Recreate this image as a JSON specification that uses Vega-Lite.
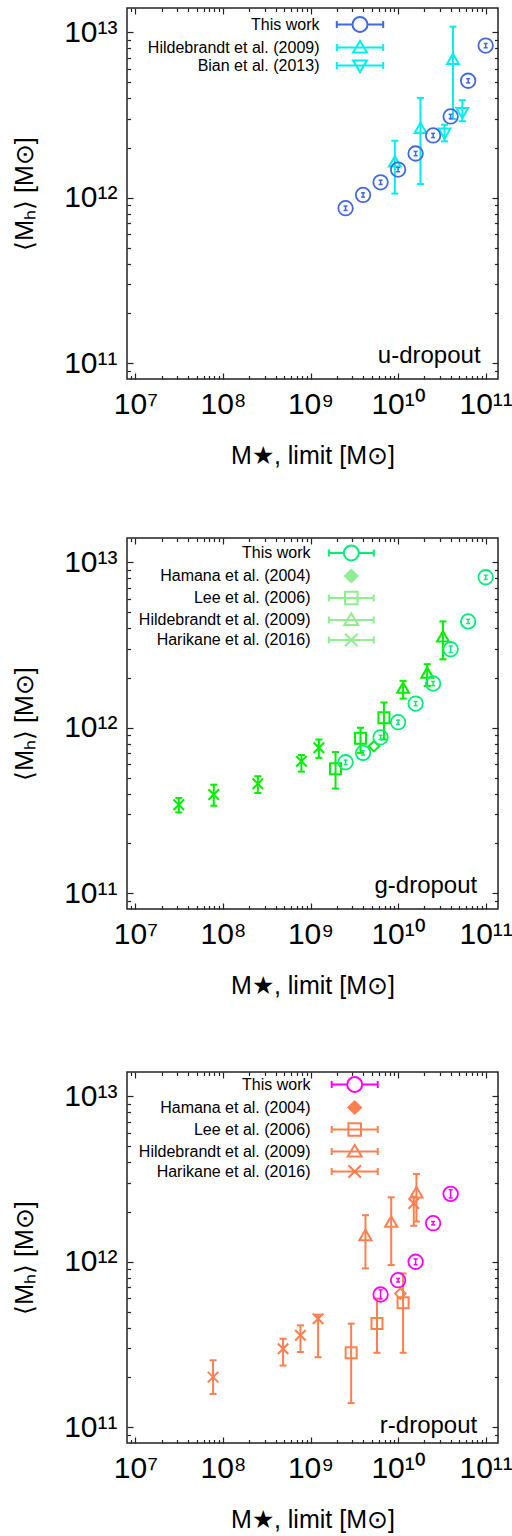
{
"$schema": "https://vega.github.io/schema/vega-lite/v6.json",
"padding": {"left": 11, "top": 6, "right": 0, "bottom": 0},
"background": "white",
"config": {
  "view": {"stroke": "#222", "strokeWidth": 1.5},
  "font": "Liberation Sans",
  "axis": {"labelFont": "Liberation Sans", "labelFontSize": 30, "labelColor": "black", "labelOverlap": false, "labelFlush": false, "domain": false, "grid": false, "tickColor": "#222", "tickWidth": 1.2, "titleFont": "Liberation Sans", "titleFontSize": 25, "titleFontWeight": "normal", "titleColor": "black"}
},
"datasets": {
  "u": [
    {"series": "This work", "x": 2.512e9, "y": 8.65e11, "lo": 8.39e11, "hi": 8.91e11},
    {"series": "This work", "x": 3.981e9, "y": 1.04e12, "lo": 1.009e12, "hi": 1.071e12},
    {"series": "This work", "x": 6.31e9, "y": 1.24e12, "lo": 1.203e12, "hi": 1.277e12},
    {"series": "This work", "x": 1e10, "y": 1.48e12, "lo": 1.436e12, "hi": 1.524e12},
    {"series": "This work", "x": 1.585e10, "y": 1.85e12, "lo": 1.795e12, "hi": 1.905e12},
    {"series": "This work", "x": 2.512e10, "y": 2.38e12, "lo": 2.31e12, "hi": 2.45e12},
    {"series": "This work", "x": 3.981e10, "y": 3.10e12, "lo": 3.01e12, "hi": 3.19e12},
    {"series": "This work", "x": 6.31e10, "y": 5.09e12, "lo": 4.94e12, "hi": 5.24e12},
    {"series": "This work", "x": 1e11, "y": 8.30e12, "lo": 8.05e12, "hi": 8.55e12},
    {"series": "Hildebrandt et al. (2009)", "x": 9.18e9, "y": 1.66e12, "lo": 1.06e12, "hi": 2.21e12},
    {"series": "Hildebrandt et al. (2009)", "x": 1.80e10, "y": 2.64e12, "lo": 1.21e12, "hi": 4.01e12},
    {"series": "Hildebrandt et al. (2009)", "x": 4.23e10, "y": 6.89e12, "lo": 2.99e12, "hi": 1.08e13},
    {"series": "Bian et al. (2013)", "x": 3.39e10, "y": 2.44e12, "lo": 2.19e12, "hi": 2.76e12},
    {"series": "Bian et al. (2013)", "x": 5.41e10, "y": 3.25e12, "lo": 2.90e12, "hi": 3.88e12}
  ],
  "g": [
    {"series": "This work", "x": 2.512e9, "y": 6.19e11, "lo": 6.0e11, "hi": 6.38e11},
    {"series": "This work", "x": 3.981e9, "y": 7.05e11, "lo": 6.84e11, "hi": 7.26e11},
    {"series": "This work", "x": 6.31e9, "y": 8.75e11, "lo": 8.49e11, "hi": 9.01e11},
    {"series": "This work", "x": 1e10, "y": 1.08e12, "lo": 1.048e12, "hi": 1.112e12},
    {"series": "This work", "x": 1.585e10, "y": 1.40e12, "lo": 1.358e12, "hi": 1.442e12},
    {"series": "This work", "x": 2.512e10, "y": 1.85e12, "lo": 1.795e12, "hi": 1.905e12},
    {"series": "This work", "x": 3.981e10, "y": 2.98e12, "lo": 2.85e12, "hi": 3.12e12},
    {"series": "This work", "x": 6.31e10, "y": 4.39e12, "lo": 4.26e12, "hi": 4.52e12},
    {"series": "This work", "x": 1e11, "y": 8.11e12, "lo": 7.87e12, "hi": 8.35e12},
    {"series": "Hamana et al. (2004)", "x": 5.3e9, "y": 7.74e11},
    {"series": "Lee et al. (2006)", "x": 1.93e9, "y": 5.66e11, "lo": 4.29e11, "hi": 7.13e11},
    {"series": "Lee et al. (2006)", "x": 3.72e9, "y": 8.63e11, "lo": 7.05e11, "hi": 1.0e12},
    {"series": "Lee et al. (2006)", "x": 6.89e9, "y": 1.15e12, "lo": 8.49e11, "hi": 1.42e12},
    {"series": "Hildebrandt et al. (2009)", "x": 1.14e10, "y": 1.75e12, "lo": 1.50e12, "hi": 1.92e12},
    {"series": "Hildebrandt et al. (2009)", "x": 2.15e10, "y": 2.15e12, "lo": 1.79e12, "hi": 2.42e12},
    {"series": "Hildebrandt et al. (2009)", "x": 3.25e10, "y": 3.56e12, "lo": 2.59e12, "hi": 4.39e12},
    {"series": "Harikane et al. (2016)", "x": 3.13e7, "y": 3.43e11, "lo": 3.08e11, "hi": 3.77e11},
    {"series": "Harikane et al. (2016)", "x": 7.85e7, "y": 3.95e11, "lo": 3.38e11, "hi": 4.53e11},
    {"series": "Harikane et al. (2016)", "x": 2.50e8, "y": 4.59e11, "lo": 4.04e11, "hi": 5.09e11},
    {"series": "Harikane et al. (2016)", "x": 7.87e8, "y": 6.28e11, "lo": 5.43e11, "hi": 6.84e11},
    {"series": "Harikane et al. (2016)", "x": 1.245e9, "y": 7.57e11, "lo": 6.58e11, "hi": 8.49e11}
  ],
  "r": [
    {"series": "This work", "x": 6.31e9, "y": 6.34e11, "lo": 5.97e11, "hi": 6.76e11},
    {"series": "This work", "x": 1e10, "y": 7.74e11, "lo": 7.55e11, "hi": 7.93e11},
    {"series": "This work", "x": 1.585e10, "y": 1.0e12, "lo": 9.6e11, "hi": 1.04e12},
    {"series": "This work", "x": 2.512e10, "y": 1.71e12, "lo": 1.67e12, "hi": 1.75e12},
    {"series": "This work", "x": 3.981e10, "y": 2.57e12, "lo": 2.43e12, "hi": 2.72e12},
    {"series": "Hamana et al. (2004)", "x": 1.06e10, "y": 6.42e11},
    {"series": "Lee et al. (2006)", "x": 2.91e9, "y": 2.82e11, "lo": 1.40e11, "hi": 4.23e11},
    {"series": "Lee et al. (2006)", "x": 5.74e9, "y": 4.23e11, "lo": 2.82e11, "hi": 6.0e11},
    {"series": "Lee et al. (2006)", "x": 1.14e10, "y": 5.65e11, "lo": 2.82e11, "hi": 8.5e11},
    {"series": "Hildebrandt et al. (2009)", "x": 4.24e9, "y": 1.45e12, "lo": 9.12e11, "hi": 1.91e12},
    {"series": "Hildebrandt et al. (2009)", "x": 8.34e9, "y": 1.75e12, "lo": 9.55e11, "hi": 2.45e12},
    {"series": "Hildebrandt et al. (2009)", "x": 1.62e10, "y": 2.63e12, "lo": 1.75e12, "hi": 3.39e12},
    {"series": "Harikane et al. (2016)", "x": 7.71e7, "y": 2.01e11, "lo": 1.59e11, "hi": 2.54e11},
    {"series": "Harikane et al. (2016)", "x": 4.86e8, "y": 2.98e11, "lo": 2.36e11, "hi": 3.43e11},
    {"series": "Harikane et al. (2016)", "x": 7.67e8, "y": 3.6e11, "lo": 2.85e11, "hi": 4.13e11},
    {"series": "Harikane et al. (2016)", "x": 1.22e9, "y": 4.53e11, "lo": 2.65e11, "hi": 4.79e11},
    {"series": "Harikane et al. (2016)", "x": 1.51e10, "y": 2.25e12, "lo": 1.65e12, "hi": 2.47e12}
  ]
},
"spacing": 159,
"bounds": "flush",
"resolve": {"scale": {"color": "independent", "shape": "independent"}, "legend": {"color": "independent", "shape": "independent"}},
"vconcat": [
{
  "width": 371, "height": 371,
  "data": {"name": "u"},
  "resolve": {"axis": {"x": "independent", "y": "independent"}},
  "layer": [
    {
      "transform": [{"filter": "false"}],
      "mark": {"type": "point", "filled": false, "opacity": 1, "strokeWidth": 2},
      "encoding": {
        "shape": {"field": "series", "type": "nominal",
          "scale": {"domain": ["This work", "Hildebrandt et al. (2009)", "Bian et al. (2013)"],
            "range": ["M-4.64,0H-1.5M1.5,0H4.64M-4.64,-0.7V0.7M4.64,-0.7V0.7M-1.5,0A1.5,1.5,0,1,0,1.5,0A1.5,1.5,0,1,0,-1.5,0",
                      "M-4.64,0H4.64M-4.64,-0.7V0.7M4.64,-0.7V0.7M-1.4,1L0,-1.3L1.4,1Z",
                      "M-4.64,0H4.64M-4.64,-0.7V0.7M4.64,-0.7V0.7M-1.4,-1L0,1.3L1.4,-1Z"]},
          "legend": {"title": null, "orient": "none", "legendX": 225, "legendY": 8.5, "padding": 0, "symbolSize": 100, "symbolStrokeWidth": 2, "symbolOpacity": 1, "labelAlign": "right", "labelOffset": -48.5, "labelFont": "Liberation Sans", "labelFontSize": 16, "labelColor": "black", "labelLimit": 300, "rowPadding": 0}},
        "color": {"field": "series", "type": "nominal",
          "scale": {"domain": ["This work", "Hildebrandt et al. (2009)", "Bian et al. (2013)"], "range": ["#4169e1", "#00eeee", "#00eeee"]},
          "legend": {"title": null, "orient": "none", "legendX": 225, "legendY": 8.5, "padding": 0, "symbolSize": 100, "symbolStrokeWidth": 2, "symbolOpacity": 1, "labelAlign": "right", "labelOffset": -48.5, "labelFont": "Liberation Sans", "labelFontSize": 16, "labelColor": "black", "labelLimit": 300, "rowPadding": 0}}
      }
    },
    {
      "transform": [{"filter": "datum.series != 'This work'"}],
      "mark": {"type": "rule", "color": "#00eeee", "strokeWidth": 2},
      "encoding": {
        "x": {"field": "x", "type": "quantitative", "scale": {"type": "log", "domain": [8.02e6, 1.383e11], "nice": false}, "axis": null},
        "y": {"field": "lo", "type": "quantitative", "scale": {"type": "log", "domain": [8.04e10, 1.40e13], "nice": false}, "axis": null},
        "y2": {"field": "hi"}
      }
    },
    {
      "transform": [{"filter": "datum.series != 'This work'"}],
      "mark": {"type": "tick", "orient": "horizontal", "color": "#00eeee", "size": 7, "thickness": 2, "opacity": 1},
      "encoding": {
        "x": {"field": "x", "type": "quantitative", "scale": {"type": "log", "domain": [8.02e6, 1.383e11], "nice": false}, "axis": null},
        "y": {"field": "lo", "type": "quantitative", "scale": {"type": "log", "domain": [8.04e10, 1.40e13], "nice": false}, "axis": null}
      }
    },
    {
      "transform": [{"filter": "datum.series != 'This work'"}],
      "mark": {"type": "tick", "orient": "horizontal", "color": "#00eeee", "size": 7, "thickness": 2, "opacity": 1},
      "encoding": {
        "x": {"field": "x", "type": "quantitative", "scale": {"type": "log", "domain": [8.02e6, 1.383e11], "nice": false}, "axis": null},
        "y": {"field": "hi", "type": "quantitative", "scale": {"type": "log", "domain": [8.04e10, 1.40e13], "nice": false}, "axis": null}
      }
    },
    {
      "transform": [{"filter": "datum.series == 'Hildebrandt et al. (2009)'"}],
      "mark": {"type": "point", "shape": "triangle-up", "size": 140, "filled": false, "strokeWidth": 2, "color": "#00eeee", "opacity": 1},
      "encoding": {
        "x": {"field": "x", "type": "quantitative", "scale": {"type": "log", "domain": [8.02e6, 1.383e11], "nice": false}, "axis": null},
        "y": {"field": "y", "type": "quantitative", "scale": {"type": "log", "domain": [8.04e10, 1.40e13], "nice": false}, "axis": null}
      }
    },
    {
      "transform": [{"filter": "datum.series == 'Bian et al. (2013)'"}],
      "mark": {"type": "point", "shape": "triangle-down", "size": 140, "filled": false, "strokeWidth": 2, "color": "#00eeee", "opacity": 1},
      "encoding": {
        "x": {"field": "x", "type": "quantitative", "scale": {"type": "log", "domain": [8.02e6, 1.383e11], "nice": false}, "axis": null},
        "y": {"field": "y", "type": "quantitative", "scale": {"type": "log", "domain": [8.04e10, 1.40e13], "nice": false}, "axis": null}
      }
    },
    {
      "transform": [{"filter": "datum.series == 'This work'"}],
      "mark": {"type": "rule", "color": "#4169e1", "strokeWidth": 1.5},
      "encoding": {
        "x": {"field": "x", "type": "quantitative", "scale": {"type": "log", "domain": [8.02e6, 1.383e11], "nice": false},
          "axis": {"orient": "top", "values": [9e6,1e7,2e7,3e7,4e7,5e7,6e7,7e7,8e7,9e7,1e8,2e8,3e8,4e8,5e8,6e8,7e8,8e8,9e8,1e9,2e9,3e9,4e9,5e9,6e9,7e9,8e9,9e9,1e10,2e10,3e10,4e10,5e10,6e10,7e10,8e10,9e10,1e11], "tickSize": {"condition": {"test": "abs(log(datum.value)/LN10 - round(log(datum.value)/LN10)) < 0.001", "value": -6}, "value": -3.5}, "labels": false, "title": null}},
        "y": {"field": "lo", "type": "quantitative", "scale": {"type": "log", "domain": [8.04e10, 1.40e13], "nice": false},
          "axis": {"orient": "right", "values": [9e10,1e11,2e11,3e11,4e11,5e11,6e11,7e11,8e11,9e11,1e12,2e12,3e12,4e12,5e12,6e12,7e12,8e12,9e12,1e13], "tickSize": {"condition": {"test": "abs(log(datum.value)/LN10 - round(log(datum.value)/LN10)) < 0.001", "value": -6}, "value": -3.5}, "labels": false, "title": null}},
        "y2": {"field": "hi"}
      }
    },
    {
      "transform": [{"filter": "datum.series == 'This work'"}],
      "mark": {"type": "tick", "orient": "horizontal", "color": "#4169e1", "size": 4, "thickness": 1.5, "opacity": 1},
      "encoding": {
        "x": {"field": "x", "type": "quantitative", "scale": {"type": "log", "domain": [8.02e6, 1.383e11], "nice": false}, "axis": null},
        "y": {"field": "lo", "type": "quantitative", "scale": {"type": "log", "domain": [8.04e10, 1.40e13], "nice": false}, "axis": null}
      }
    },
    {
      "transform": [{"filter": "datum.series == 'This work'"}],
      "mark": {"type": "tick", "orient": "horizontal", "color": "#4169e1", "size": 4, "thickness": 1.5, "opacity": 1},
      "encoding": {
        "x": {"field": "x", "type": "quantitative", "scale": {"type": "log", "domain": [8.02e6, 1.383e11], "nice": false}, "axis": null},
        "y": {"field": "hi", "type": "quantitative", "scale": {"type": "log", "domain": [8.04e10, 1.40e13], "nice": false}, "axis": null}
      }
    },
    {
      "transform": [{"filter": "datum.series == 'This work'"}],
      "mark": {"type": "point", "shape": "circle", "size": 210, "filled": false, "strokeWidth": 1.8, "color": "#4169e1", "opacity": 1},
      "encoding": {
        "x": {"field": "x", "type": "quantitative", "scale": {"type": "log", "domain": [8.02e6, 1.383e11], "nice": false},
          "axis": {"orient": "bottom", "values": [9e6,1e7,2e7,3e7,4e7,5e7,6e7,7e7,8e7,9e7,1e8,2e8,3e8,4e8,5e8,6e8,7e8,8e8,9e8,1e9,2e9,3e9,4e9,5e9,6e9,7e9,8e9,9e9,1e10,2e10,3e10,4e10,5e10,6e10,7e10,8e10,9e10,1e11], "tickSize": {"condition": {"test": "abs(log(datum.value)/LN10 - round(log(datum.value)/LN10)) < 0.001", "value": -6}, "value": -3.5}, "labelPadding": 16, "labelExpr": "abs(log(datum.value)/LN10 - round(log(datum.value)/LN10)) > 0.001 ? '' : '10' + (round(log(datum.value)/LN10) == 7 ? '⁷' : round(log(datum.value)/LN10) == 8 ? '⁸' : round(log(datum.value)/LN10) == 9 ? '⁹' : round(log(datum.value)/LN10) == 10 ? '¹⁰' : round(log(datum.value)/LN10) == 11 ? '¹¹' : round(log(datum.value)/LN10) == 12 ? '¹²' : '¹³')", "title": "M★, limit [M⊙]", "titlePadding": 22}},
        "y": {"field": "y", "type": "quantitative", "scale": {"type": "log", "domain": [8.04e10, 1.40e13], "nice": false},
          "axis": {"orient": "left", "values": [9e10,1e11,2e11,3e11,4e11,5e11,6e11,7e11,8e11,9e11,1e12,2e12,3e12,4e12,5e12,6e12,7e12,8e12,9e12,1e13], "tickSize": {"condition": {"test": "abs(log(datum.value)/LN10 - round(log(datum.value)/LN10)) < 0.001", "value": -6}, "value": -3.5}, "labelPadding": 16, "labelExpr": "abs(log(datum.value)/LN10 - round(log(datum.value)/LN10)) > 0.001 ? '' : '10' + (round(log(datum.value)/LN10) == 7 ? '⁷' : round(log(datum.value)/LN10) == 8 ? '⁸' : round(log(datum.value)/LN10) == 9 ? '⁹' : round(log(datum.value)/LN10) == 10 ? '¹⁰' : round(log(datum.value)/LN10) == 11 ? '¹¹' : round(log(datum.value)/LN10) == 12 ? '¹²' : '¹³')", "title": "⟨Mₕ⟩  [M⊙]", "titlePadding": 26}}
      }
    },
    {
      "data": {"values": [{"label": "u-dropout"}]},
      "mark": {"type": "text", "align": "right", "baseline": "alphabetic", "font": "Liberation Sans", "fontSize": 24, "color": "black"},
      "encoding": {
        "x": {"datum": 8.75e10, "type": "quantitative", "scale": {"type": "log", "domain": [8.02e6, 1.383e11], "nice": false}, "axis": null},
        "y": {"datum": 1.0e11, "type": "quantitative", "scale": {"type": "log", "domain": [8.04e10, 1.40e13], "nice": false}, "axis": null},
        "text": {"field": "label"}
      }
    }
  ]
},
{
  "spacing": 163,
  "bounds": "flush",
  "resolve": {"scale": {"color": "independent", "shape": "independent"}, "legend": {"color": "independent", "shape": "independent"}},
  "vconcat": [
  {
    "width": 371, "height": 371,
    "data": {"name": "g"},
    "resolve": {"axis": {"x": "independent", "y": "independent"}},
    "layer": [
      {
        "transform": [{"filter": "false"}],
        "mark": {"type": "point", "filled": false, "opacity": 1, "strokeWidth": 2},
        "encoding": {
          "shape": {"field": "series", "type": "nominal",
            "scale": {"domain": ["This work", "Hamana et al. (2004)", "Lee et al. (2006)", "Hildebrandt et al. (2009)", "Harikane et al. (2016)"],
              "range": ["M-3.21,0H-1.07M1.07,0H3.21M-3.21,-0.5V0.5M3.21,-0.5V0.5M-1.07,0A1.07,1.07,0,1,0,1.07,0A1.07,1.07,0,1,0,-1.07,0",
                        "M0,-0.86L0.9,0L0,0.86L-0.9,0ZM0,-0.61L0.64,0L0,0.61L-0.64,0ZM0,-0.36L0.38,0L0,0.36L-0.38,0ZM0,-0.12L0.13,0L0,0.12L-0.13,0Z",
                        "M-3.21,0H3.21M-3.21,-0.5V0.5M3.21,-0.5V0.5M-0.9,-0.9H0.9V0.9H-0.9Z",
                        "M-3.21,0H3.21M-3.21,-0.5V0.5M3.21,-0.5V0.5M-1,0.71L0,-0.93L1,0.71Z",
                        "M-3.21,0H3.21M-3.21,-0.5V0.5M3.21,-0.5V0.5M-0.9,-0.9L0.9,0.9M-0.9,0.9L0.9,-0.9"]},
            "legend": {"title": null, "orient": "none", "legendX": 216.3, "legendY": 7, "padding": 0, "symbolSize": 196, "symbolStrokeWidth": 2, "symbolOpacity": 1, "labelAlign": "right", "labelOffset": -48.8, "labelFont": "Liberation Sans", "labelFontSize": 16, "labelColor": "black", "labelLimit": 300, "rowPadding": 0}},
          "color": {"field": "series", "type": "nominal",
            "scale": {"domain": ["This work", "Hamana et al. (2004)", "Lee et al. (2006)", "Hildebrandt et al. (2009)", "Harikane et al. (2016)"], "range": ["#00ee77", "#90ee90", "#90ee90", "#90ee90", "#90ee90"]},
            "legend": {"title": null, "orient": "none", "legendX": 216.3, "legendY": 7, "padding": 0, "symbolSize": 196, "symbolStrokeWidth": 2, "symbolOpacity": 1, "labelAlign": "right", "labelOffset": -48.8, "labelFont": "Liberation Sans", "labelFontSize": 16, "labelColor": "black", "labelLimit": 300, "rowPadding": 0}}
        }
      },
      {
        "transform": [{"filter": "datum.series != 'This work' && isValid(datum.lo)"}],
        "mark": {"type": "rule", "color": "#00ee00", "strokeWidth": 2},
        "encoding": {
          "x": {"field": "x", "type": "quantitative", "scale": {"type": "log", "domain": [8.02e6, 1.383e11], "nice": false}, "axis": null},
          "y": {"field": "lo", "type": "quantitative", "scale": {"type": "log", "domain": [8.04e10, 1.40e13], "nice": false}, "axis": null},
          "y2": {"field": "hi"}
        }
      },
      {
        "transform": [{"filter": "datum.series != 'This work' && isValid(datum.lo)"}],
        "mark": {"type": "tick", "orient": "horizontal", "color": "#00ee00", "size": 7, "thickness": 2, "opacity": 1},
        "encoding": {
          "x": {"field": "x", "type": "quantitative", "scale": {"type": "log", "domain": [8.02e6, 1.383e11], "nice": false}, "axis": null},
          "y": {"field": "lo", "type": "quantitative", "scale": {"type": "log", "domain": [8.04e10, 1.40e13], "nice": false}, "axis": null}
        }
      },
      {
        "transform": [{"filter": "datum.series != 'This work' && isValid(datum.hi)"}],
        "mark": {"type": "tick", "orient": "horizontal", "color": "#00ee00", "size": 7, "thickness": 2, "opacity": 1},
        "encoding": {
          "x": {"field": "x", "type": "quantitative", "scale": {"type": "log", "domain": [8.02e6, 1.383e11], "nice": false}, "axis": null},
          "y": {"field": "hi", "type": "quantitative", "scale": {"type": "log", "domain": [8.04e10, 1.40e13], "nice": false}, "axis": null}
        }
      },
      {
        "transform": [{"filter": "datum.series == 'Hamana et al. (2004)'"}],
        "mark": {"type": "point", "shape": "diamond", "size": 110, "filled": false, "strokeWidth": 2, "color": "#00ee00", "opacity": 1},
        "encoding": {
          "x": {"field": "x", "type": "quantitative", "scale": {"type": "log", "domain": [8.02e6, 1.383e11], "nice": false}, "axis": null},
          "y": {"field": "y", "type": "quantitative", "scale": {"type": "log", "domain": [8.04e10, 1.40e13], "nice": false}, "axis": null}
        }
      },
      {
        "transform": [{"filter": "datum.series == 'Lee et al. (2006)'"}],
        "mark": {"type": "point", "shape": "square", "size": 121, "filled": false, "strokeWidth": 2, "color": "#00ee00", "opacity": 1},
        "encoding": {
          "x": {"field": "x", "type": "quantitative", "scale": {"type": "log", "domain": [8.02e6, 1.383e11], "nice": false}, "axis": null},
          "y": {"field": "y", "type": "quantitative", "scale": {"type": "log", "domain": [8.04e10, 1.40e13], "nice": false}, "axis": null}
        }
      },
      {
        "transform": [{"filter": "datum.series == 'Hildebrandt et al. (2009)'"}],
        "mark": {"type": "point", "shape": "triangle-up", "size": 140, "filled": false, "strokeWidth": 2, "color": "#00ee00", "opacity": 1},
        "encoding": {
          "x": {"field": "x", "type": "quantitative", "scale": {"type": "log", "domain": [8.02e6, 1.383e11], "nice": false}, "axis": null},
          "y": {"field": "y", "type": "quantitative", "scale": {"type": "log", "domain": [8.04e10, 1.40e13], "nice": false}, "axis": null}
        }
      },
      {
        "transform": [{"filter": "datum.series == 'Harikane et al. (2016)'"}],
        "mark": {"type": "point", "shape": "M-1,-1L1,1M-1,1L1,-1", "size": 110, "filled": false, "strokeWidth": 2, "color": "#00ee00", "opacity": 1},
        "encoding": {
          "x": {"field": "x", "type": "quantitative", "scale": {"type": "log", "domain": [8.02e6, 1.383e11], "nice": false}, "axis": null},
          "y": {"field": "y", "type": "quantitative", "scale": {"type": "log", "domain": [8.04e10, 1.40e13], "nice": false}, "axis": null}
        }
      },
      {
        "transform": [{"filter": "datum.series == 'This work'"}],
        "mark": {"type": "rule", "color": "#00ee77", "strokeWidth": 1.5},
        "encoding": {
          "x": {"field": "x", "type": "quantitative", "scale": {"type": "log", "domain": [8.02e6, 1.383e11], "nice": false},
            "axis": {"orient": "top", "values": [9e6,1e7,2e7,3e7,4e7,5e7,6e7,7e7,8e7,9e7,1e8,2e8,3e8,4e8,5e8,6e8,7e8,8e8,9e8,1e9,2e9,3e9,4e9,5e9,6e9,7e9,8e9,9e9,1e10,2e10,3e10,4e10,5e10,6e10,7e10,8e10,9e10,1e11], "tickSize": {"condition": {"test": "abs(log(datum.value)/LN10 - round(log(datum.value)/LN10)) < 0.001", "value": -6}, "value": -3.5}, "labels": false, "title": null}},
          "y": {"field": "lo", "type": "quantitative", "scale": {"type": "log", "domain": [8.04e10, 1.40e13], "nice": false},
            "axis": {"orient": "right", "values": [9e10,1e11,2e11,3e11,4e11,5e11,6e11,7e11,8e11,9e11,1e12,2e12,3e12,4e12,5e12,6e12,7e12,8e12,9e12,1e13], "tickSize": {"condition": {"test": "abs(log(datum.value)/LN10 - round(log(datum.value)/LN10)) < 0.001", "value": -6}, "value": -3.5}, "labels": false, "title": null}},
          "y2": {"field": "hi"}
        }
      },
      {
        "transform": [{"filter": "datum.series == 'This work'"}],
        "mark": {"type": "tick", "orient": "horizontal", "color": "#00ee77", "size": 4, "thickness": 1.5, "opacity": 1},
        "encoding": {
          "x": {"field": "x", "type": "quantitative", "scale": {"type": "log", "domain": [8.02e6, 1.383e11], "nice": false}, "axis": null},
          "y": {"field": "lo", "type": "quantitative", "scale": {"type": "log", "domain": [8.04e10, 1.40e13], "nice": false}, "axis": null}
        }
      },
      {
        "transform": [{"filter": "datum.series == 'This work'"}],
        "mark": {"type": "tick", "orient": "horizontal", "color": "#00ee77", "size": 4, "thickness": 1.5, "opacity": 1},
        "encoding": {
          "x": {"field": "x", "type": "quantitative", "scale": {"type": "log", "domain": [8.02e6, 1.383e11], "nice": false}, "axis": null},
          "y": {"field": "hi", "type": "quantitative", "scale": {"type": "log", "domain": [8.04e10, 1.40e13], "nice": false}, "axis": null}
        }
      },
      {
        "transform": [{"filter": "datum.series == 'This work'"}],
        "mark": {"type": "point", "shape": "circle", "size": 210, "filled": false, "strokeWidth": 1.8, "color": "#00ee77", "opacity": 1},
        "encoding": {
          "x": {"field": "x", "type": "quantitative", "scale": {"type": "log", "domain": [8.02e6, 1.383e11], "nice": false},
            "axis": {"orient": "bottom", "values": [9e6,1e7,2e7,3e7,4e7,5e7,6e7,7e7,8e7,9e7,1e8,2e8,3e8,4e8,5e8,6e8,7e8,8e8,9e8,1e9,2e9,3e9,4e9,5e9,6e9,7e9,8e9,9e9,1e10,2e10,3e10,4e10,5e10,6e10,7e10,8e10,9e10,1e11], "tickSize": {"condition": {"test": "abs(log(datum.value)/LN10 - round(log(datum.value)/LN10)) < 0.001", "value": -6}, "value": -3.5}, "labelPadding": 16, "labelExpr": "abs(log(datum.value)/LN10 - round(log(datum.value)/LN10)) > 0.001 ? '' : '10' + (round(log(datum.value)/LN10) == 7 ? '⁷' : round(log(datum.value)/LN10) == 8 ? '⁸' : round(log(datum.value)/LN10) == 9 ? '⁹' : round(log(datum.value)/LN10) == 10 ? '¹⁰' : round(log(datum.value)/LN10) == 11 ? '¹¹' : round(log(datum.value)/LN10) == 12 ? '¹²' : '¹³')", "title": "M★, limit [M⊙]", "titlePadding": 22}},
          "y": {"field": "y", "type": "quantitative", "scale": {"type": "log", "domain": [8.04e10, 1.40e13], "nice": false},
            "axis": {"orient": "left", "values": [9e10,1e11,2e11,3e11,4e11,5e11,6e11,7e11,8e11,9e11,1e12,2e12,3e12,4e12,5e12,6e12,7e12,8e12,9e12,1e13], "tickSize": {"condition": {"test": "abs(log(datum.value)/LN10 - round(log(datum.value)/LN10)) < 0.001", "value": -6}, "value": -3.5}, "labelPadding": 16, "labelExpr": "abs(log(datum.value)/LN10 - round(log(datum.value)/LN10)) > 0.001 ? '' : '10' + (round(log(datum.value)/LN10) == 7 ? '⁷' : round(log(datum.value)/LN10) == 8 ? '⁸' : round(log(datum.value)/LN10) == 9 ? '⁹' : round(log(datum.value)/LN10) == 10 ? '¹⁰' : round(log(datum.value)/LN10) == 11 ? '¹¹' : round(log(datum.value)/LN10) == 12 ? '¹²' : '¹³')", "title": "⟨Mₕ⟩  [M⊙]", "titlePadding": 26}}
        }
      },
      {
        "data": {"values": [{"label": "g-dropout"}]},
        "mark": {"type": "text", "align": "right", "baseline": "alphabetic", "font": "Liberation Sans", "fontSize": 24, "color": "black"},
        "encoding": {
          "x": {"datum": 8.01e10, "type": "quantitative", "scale": {"type": "log", "domain": [8.02e6, 1.383e11], "nice": false}, "axis": null},
          "y": {"datum": 1.0e11, "type": "quantitative", "scale": {"type": "log", "domain": [8.04e10, 1.40e13], "nice": false}, "axis": null},
          "text": {"field": "label"}
        }
      }
    ]
  },
  {
    "width": 371, "height": 371,
    "data": {"name": "r"},
    "resolve": {"axis": {"x": "independent", "y": "independent"}},
    "layer": [
      {
        "transform": [{"filter": "false"}],
        "mark": {"type": "point", "filled": false, "opacity": 1, "strokeWidth": 2},
        "encoding": {
          "shape": {"field": "series", "type": "nominal",
            "scale": {"domain": ["This work", "Hamana et al. (2004)", "Lee et al. (2006)", "Hildebrandt et al. (2009)", "Harikane et al. (2016)"],
              "range": ["M-3.29,0H-1.07M1.07,0H3.29M-3.29,-0.5V0.5M3.29,-0.5V0.5M-1.07,0A1.07,1.07,0,1,0,1.07,0A1.07,1.07,0,1,0,-1.07,0",
                        "M0,-0.86L0.9,0L0,0.86L-0.9,0ZM0,-0.61L0.64,0L0,0.61L-0.64,0ZM0,-0.36L0.38,0L0,0.36L-0.38,0ZM0,-0.12L0.13,0L0,0.12L-0.13,0Z",
                        "M-3.29,0H3.29M-3.29,-0.5V0.5M3.29,-0.5V0.5M-0.9,-0.9H0.9V0.9H-0.9Z",
                        "M-3.29,0H3.29M-3.29,-0.5V0.5M3.29,-0.5V0.5M-1,0.71L0,-0.93L1,0.71Z",
                        "M-3.29,0H3.29M-3.29,-0.5V0.5M3.29,-0.5V0.5M-0.9,-0.9L0.9,0.9M-0.9,0.9L0.9,-0.9"]},
            "legend": {"title": null, "orient": "none", "legendX": 219.7, "legendY": 4.5, "padding": 0, "symbolSize": 196, "symbolStrokeWidth": 2, "symbolOpacity": 1, "labelAlign": "right", "labelOffset": -52.2, "labelFont": "Liberation Sans", "labelFontSize": 16, "labelColor": "black", "labelLimit": 300, "rowPadding": 0}},
          "color": {"field": "series", "type": "nominal",
            "scale": {"domain": ["This work", "Hamana et al. (2004)", "Lee et al. (2006)", "Hildebrandt et al. (2009)", "Harikane et al. (2016)"], "range": ["#ff00ff", "#ff7f50", "#ff7f50", "#ff7f50", "#ff7f50"]},
            "legend": {"title": null, "orient": "none", "legendX": 219.7, "legendY": 4.5, "padding": 0, "symbolSize": 196, "symbolStrokeWidth": 2, "symbolOpacity": 1, "labelAlign": "right", "labelOffset": -52.2, "labelFont": "Liberation Sans", "labelFontSize": 16, "labelColor": "black", "labelLimit": 300, "rowPadding": 0}}
        }
      },
      {
        "transform": [{"filter": "datum.series != 'This work' && isValid(datum.lo)"}],
        "mark": {"type": "rule", "color": "#ff7f50", "strokeWidth": 2},
        "encoding": {
          "x": {"field": "x", "type": "quantitative", "scale": {"type": "log", "domain": [8.02e6, 1.383e11], "nice": false}, "axis": null},
          "y": {"field": "lo", "type": "quantitative", "scale": {"type": "log", "domain": [8.04e10, 1.40e13], "nice": false}, "axis": null},
          "y2": {"field": "hi"}
        }
      },
      {
        "transform": [{"filter": "datum.series != 'This work' && isValid(datum.lo)"}],
        "mark": {"type": "tick", "orient": "horizontal", "color": "#ff7f50", "size": 7, "thickness": 2, "opacity": 1},
        "encoding": {
          "x": {"field": "x", "type": "quantitative", "scale": {"type": "log", "domain": [8.02e6, 1.383e11], "nice": false}, "axis": null},
          "y": {"field": "lo", "type": "quantitative", "scale": {"type": "log", "domain": [8.04e10, 1.40e13], "nice": false}, "axis": null}
        }
      },
      {
        "transform": [{"filter": "datum.series != 'This work' && isValid(datum.hi)"}],
        "mark": {"type": "tick", "orient": "horizontal", "color": "#ff7f50", "size": 7, "thickness": 2, "opacity": 1},
        "encoding": {
          "x": {"field": "x", "type": "quantitative", "scale": {"type": "log", "domain": [8.02e6, 1.383e11], "nice": false}, "axis": null},
          "y": {"field": "hi", "type": "quantitative", "scale": {"type": "log", "domain": [8.04e10, 1.40e13], "nice": false}, "axis": null}
        }
      },
      {
        "transform": [{"filter": "datum.series == 'Hamana et al. (2004)'"}],
        "mark": {"type": "point", "shape": "diamond", "size": 110, "filled": false, "strokeWidth": 2, "color": "#ff7f50", "opacity": 1},
        "encoding": {
          "x": {"field": "x", "type": "quantitative", "scale": {"type": "log", "domain": [8.02e6, 1.383e11], "nice": false}, "axis": null},
          "y": {"field": "y", "type": "quantitative", "scale": {"type": "log", "domain": [8.04e10, 1.40e13], "nice": false}, "axis": null}
        }
      },
      {
        "transform": [{"filter": "datum.series == 'Lee et al. (2006)'"}],
        "mark": {"type": "point", "shape": "square", "size": 121, "filled": false, "strokeWidth": 2, "color": "#ff7f50", "opacity": 1},
        "encoding": {
          "x": {"field": "x", "type": "quantitative", "scale": {"type": "log", "domain": [8.02e6, 1.383e11], "nice": false}, "axis": null},
          "y": {"field": "y", "type": "quantitative", "scale": {"type": "log", "domain": [8.04e10, 1.40e13], "nice": false}, "axis": null}
        }
      },
      {
        "transform": [{"filter": "datum.series == 'Hildebrandt et al. (2009)'"}],
        "mark": {"type": "point", "shape": "triangle-up", "size": 150, "filled": false, "strokeWidth": 2, "color": "#ff7f50", "opacity": 1},
        "encoding": {
          "x": {"field": "x", "type": "quantitative", "scale": {"type": "log", "domain": [8.02e6, 1.383e11], "nice": false}, "axis": null},
          "y": {"field": "y", "type": "quantitative", "scale": {"type": "log", "domain": [8.04e10, 1.40e13], "nice": false}, "axis": null}
        }
      },
      {
        "transform": [{"filter": "datum.series == 'Harikane et al. (2016)'"}],
        "mark": {"type": "point", "shape": "M-1,-1L1,1M-1,1L1,-1", "size": 110, "filled": false, "strokeWidth": 2, "color": "#ff7f50", "opacity": 1},
        "encoding": {
          "x": {"field": "x", "type": "quantitative", "scale": {"type": "log", "domain": [8.02e6, 1.383e11], "nice": false}, "axis": null},
          "y": {"field": "y", "type": "quantitative", "scale": {"type": "log", "domain": [8.04e10, 1.40e13], "nice": false}, "axis": null}
        }
      },
      {
        "transform": [{"filter": "datum.series == 'This work'"}],
        "mark": {"type": "rule", "color": "#ff00ff", "strokeWidth": 1.5},
        "encoding": {
          "x": {"field": "x", "type": "quantitative", "scale": {"type": "log", "domain": [8.02e6, 1.383e11], "nice": false},
            "axis": {"orient": "top", "values": [9e6,1e7,2e7,3e7,4e7,5e7,6e7,7e7,8e7,9e7,1e8,2e8,3e8,4e8,5e8,6e8,7e8,8e8,9e8,1e9,2e9,3e9,4e9,5e9,6e9,7e9,8e9,9e9,1e10,2e10,3e10,4e10,5e10,6e10,7e10,8e10,9e10,1e11], "tickSize": {"condition": {"test": "abs(log(datum.value)/LN10 - round(log(datum.value)/LN10)) < 0.001", "value": -6}, "value": -3.5}, "labels": false, "title": null}},
          "y": {"field": "lo", "type": "quantitative", "scale": {"type": "log", "domain": [8.04e10, 1.40e13], "nice": false},
            "axis": {"orient": "right", "values": [9e10,1e11,2e11,3e11,4e11,5e11,6e11,7e11,8e11,9e11,1e12,2e12,3e12,4e12,5e12,6e12,7e12,8e12,9e12,1e13], "tickSize": {"condition": {"test": "abs(log(datum.value)/LN10 - round(log(datum.value)/LN10)) < 0.001", "value": -6}, "value": -3.5}, "labels": false, "title": null}},
          "y2": {"field": "hi"}
        }
      },
      {
        "transform": [{"filter": "datum.series == 'This work'"}],
        "mark": {"type": "tick", "orient": "horizontal", "color": "#ff00ff", "size": 4, "thickness": 1.5, "opacity": 1},
        "encoding": {
          "x": {"field": "x", "type": "quantitative", "scale": {"type": "log", "domain": [8.02e6, 1.383e11], "nice": false}, "axis": null},
          "y": {"field": "lo", "type": "quantitative", "scale": {"type": "log", "domain": [8.04e10, 1.40e13], "nice": false}, "axis": null}
        }
      },
      {
        "transform": [{"filter": "datum.series == 'This work'"}],
        "mark": {"type": "tick", "orient": "horizontal", "color": "#ff00ff", "size": 4, "thickness": 1.5, "opacity": 1},
        "encoding": {
          "x": {"field": "x", "type": "quantitative", "scale": {"type": "log", "domain": [8.02e6, 1.383e11], "nice": false}, "axis": null},
          "y": {"field": "hi", "type": "quantitative", "scale": {"type": "log", "domain": [8.04e10, 1.40e13], "nice": false}, "axis": null}
        }
      },
      {
        "transform": [{"filter": "datum.series == 'This work'"}],
        "mark": {"type": "point", "shape": "circle", "size": 210, "filled": false, "strokeWidth": 1.8, "color": "#ff00ff", "opacity": 1},
        "encoding": {
          "x": {"field": "x", "type": "quantitative", "scale": {"type": "log", "domain": [8.02e6, 1.383e11], "nice": false},
            "axis": {"orient": "bottom", "values": [9e6,1e7,2e7,3e7,4e7,5e7,6e7,7e7,8e7,9e7,1e8,2e8,3e8,4e8,5e8,6e8,7e8,8e8,9e8,1e9,2e9,3e9,4e9,5e9,6e9,7e9,8e9,9e9,1e10,2e10,3e10,4e10,5e10,6e10,7e10,8e10,9e10,1e11], "tickSize": {"condition": {"test": "abs(log(datum.value)/LN10 - round(log(datum.value)/LN10)) < 0.001", "value": -6}, "value": -3.5}, "labelPadding": 16, "labelExpr": "abs(log(datum.value)/LN10 - round(log(datum.value)/LN10)) > 0.001 ? '' : '10' + (round(log(datum.value)/LN10) == 7 ? '⁷' : round(log(datum.value)/LN10) == 8 ? '⁸' : round(log(datum.value)/LN10) == 9 ? '⁹' : round(log(datum.value)/LN10) == 10 ? '¹⁰' : round(log(datum.value)/LN10) == 11 ? '¹¹' : round(log(datum.value)/LN10) == 12 ? '¹²' : '¹³')", "title": "M★, limit [M⊙]", "titlePadding": 22}},
          "y": {"field": "y", "type": "quantitative", "scale": {"type": "log", "domain": [8.04e10, 1.40e13], "nice": false},
            "axis": {"orient": "left", "values": [9e10,1e11,2e11,3e11,4e11,5e11,6e11,7e11,8e11,9e11,1e12,2e12,3e12,4e12,5e12,6e12,7e12,8e12,9e12,1e13], "tickSize": {"condition": {"test": "abs(log(datum.value)/LN10 - round(log(datum.value)/LN10)) < 0.001", "value": -6}, "value": -3.5}, "labelPadding": 16, "labelExpr": "abs(log(datum.value)/LN10 - round(log(datum.value)/LN10)) > 0.001 ? '' : '10' + (round(log(datum.value)/LN10) == 7 ? '⁷' : round(log(datum.value)/LN10) == 8 ? '⁸' : round(log(datum.value)/LN10) == 9 ? '⁹' : round(log(datum.value)/LN10) == 10 ? '¹⁰' : round(log(datum.value)/LN10) == 11 ? '¹¹' : round(log(datum.value)/LN10) == 12 ? '¹²' : '¹³')", "title": "⟨Mₕ⟩  [M⊙]", "titlePadding": 26}}
        }
      },
      {
        "data": {"values": [{"label": "r-dropout"}]},
        "mark": {"type": "text", "align": "right", "baseline": "alphabetic", "font": "Liberation Sans", "fontSize": 24, "color": "black"},
        "encoding": {
          "x": {"datum": 8.01e10, "type": "quantitative", "scale": {"type": "log", "domain": [8.02e6, 1.383e11], "nice": false}, "axis": null},
          "y": {"datum": 9.2e10, "type": "quantitative", "scale": {"type": "log", "domain": [8.04e10, 1.40e13], "nice": false}, "axis": null},
          "text": {"field": "label"}
        }
      }
    ]
  }
  ]
}
]
}
